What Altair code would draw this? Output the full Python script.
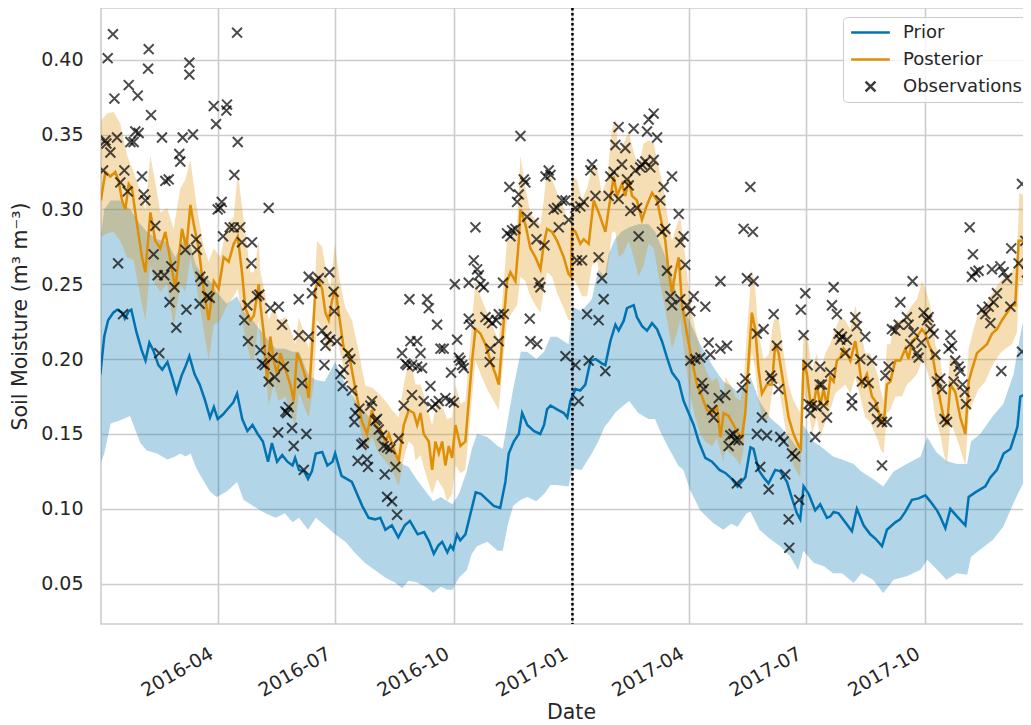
import altair as alt
import pandas as pd

# ---------------- data (day offset from 2016-01-01, soil moisture m3/m3) ----------------
PRIOR_MEAN = [
    (0, .19), (3, .215), (6, .226), (10, .231), (13, .233), (17, .231), (19, .227), (22, .232), (24, .233),
    (28, .218), (32, .206), (35, .199), (38, .211), (41, .206), (45, .196), (48, .193), (52, .198), (56, .187),
    (59, .178), (63, .189), (66, .195), (69, .202), (73, .190), (77, .183), (81, .173), (85, .161), (88, .168),
    (91, .160), (95, .163), (99, .167), (103, .171), (106, .177), (110, .160), (114, .152), (118, .156),
    (122, .150), (126, .145), (130, .1315), (133, .144), (137, .1315), (141, .136), (145, .1315), (149, .129),
    (151, .134), (154, .126), (158, .125), (161, .120), (164, .125), (167, .137), (172, .138), (176, .129),
    (180, .1315), (182, .137), (187, .122), (195, .118), (203, .102), (208, .094), (213, .093), (217, .094),
    (221, .086), (226, .089), (231, .081), (236, .089), (240, .092), (246, .083), (251, .0845), (255, .078),
    (258.5, .070), (262, .0755), (265, .078), (269, .071), (271.5, .0755), (273.5, .073), (276.5, .083),
    (279, .079), (283, .083), (287, .097), (291, .111), (295, .110), (300, .106), (305, .102), (310, .1006),
    (314, .118), (316.6, .137), (320.5, .145), (324.4, .150), (327, .164), (331, .156), (336, .152), (341, .150),
    (344, .156), (346.3, .1664), (349, .169), (354, .1664), (359.3, .164), (362, .161), (364.4, .172),
    (368.3, .180), (372, .179), (376, .183), (380, .199), (384, .200), (389, .197), (391.5, .196), (395.4, .212),
    (399.3, .223), (401.8, .219), (405.7, .2255), (408.3, .234), (410.9, .235), (413.5, .236), (416, .228),
    (420, .222), (423.8, .219), (427.7, .224), (431.6, .220), (435.4, .212), (439.3, .201), (443.2, .191),
    (448.4, .185), (452.2, .172), (456.1, .164), (460, .156), (463.9, .145), (469, .134), (474.2, .1315),
    (480, .126), (484.5, .124), (489.6, .120), (494, .115), (500, .121), (504, .141), (506.4, .140), (510.3, .126),
    (514.2, .121), (518, .117), (523.2, .126), (527.1, .125), (532.3, .118), (536.2, .107), (540, .097),
    (542.6, .093), (545.2, .115), (549.1, .110), (554.2, .099), (558.1, .103), (563.3, .094), (566, .095),
    (568.5, .098), (572.3, .097), (577.5, .091), (582.7, .085), (586.5, .100), (591.7, .089), (596.9, .083),
    (601, .080), (606, .075), (609.8, .086), (616.3, .091), (620, .093), (624, .098), (629.2, .106),
    (634.4, .107), (639.6, .109), (643.4, .105), (648.6, .099), (651, .095), (655.1, .087), (659, .100),
    (664.1, .095), (670.6, .089), (673.2, .108), (678.3, .111), (686.1, .115), (690, .121), (695.1, .126),
    (700.3, .137), (705.5, .140), (709.3, .150), (711, .155), (713.2, .175), (718.4, .177), (721.7, .178),
]

PRIOR_BAND = [  # (day, lower, upper)
    (0, .13, .28), (3, .137, .30), (8, .157, .306), (15, .159, .306), (23, .162, .30), (31, .144, .29),
    (36, .139, .285), (44, .137, .28), (52, .133, .278), (58, .135, .268), (62, .137, .275), (66, .135, .282),
    (70, .137, .275), (74, .128, .263), (78, .1216, .258), (85, .1116, .252), (90, .108, .245), (98, .1116, .237),
    (106, .118, .242), (111, .106, .232), (119, .1016, .225), (128, .097, .215), (136, .094, .207),
    (143, .097, .207), (149, .091, .205), (154, .094, .205), (161, .086, .19), (167, .094, .186),
    (174, .089, .185), (182, .083, .198), (190, .078, .183), (198, .070, .172), (205, .064, .165),
    (213, .059, .156), (221, .054, .145), (228, .051, .138), (234, .047, .13), (239, .052, .128),
    (245, .051, .12), (252, .048, .112), (258, .044, .105), (264, .048, .108), (269, .046, .105),
    (273, .046, .103), (278, .054, .11), (284, .059, .125), (288, .070, .14), (292, .075, .15), (300, .078, .148),
    (308, .072, .142), (312, .072, .14), (316, .09, .16), (320, .102, .18), (326, .106, .205), (331, .108, .205),
    (338, .105, .2), (344, .11, .205), (349, .116, .215), (354, .116, .215), (363, .115, .21), (366, .127, .235),
    (373, .126, .232), (381, .137, .24), (386, .145, .26), (391, .155, .255), (394, .158, .27), (399, .164, .28),
    (404, .168, .285), (410, .172, .288), (417, .164, .29), (425, .16, .29), (430, .16, .285), (435, .15, .275),
    (441, .14, .262), (448, .129, .24), (452, .126, .235), (457, .113, .225), (465, .099, .21), (475, .0905, .195),
    (483, .086, .185), (489, .09, .182), (494, .088, .178), (501, .097, .185), (504, .098, .188), (511, .086, .172),
    (519, .08, .161), (527, .075, .155), (535, .068, .147), (541, .059, .14), (545, .072, .156), (553, .064, .145),
    (561, .0616, .14), (568, .057, .135), (575, .057, .133), (584, .0505, .13), (590, .057, .125),
    (599, .0527, .12), (607, .0438, .115), (615, .0527, .125), (625, .055, .13), (636, .0593, .135),
    (641, .066, .148), (648, .06, .138), (656, .0527, .132), (664, .057, .13), (672, .056, .13), (675, .068, .145),
    (682, .0727, .15), (692, .0794, .162), (700, .088, .17), (708, .104, .19), (713, .113, .215), (716, .118, .228),
    (722, .126, .235),
]

POST_MEAN = [
    (0.5, .306), (1.3, .311), (3.9, .325), (7.8, .322), (11.6, .325), (14.2, .319), (16.8, .306), (19.4, .300),
    (22, .317), (24.5, .314), (28.4, .290), (32.3, .268), (34.9, .258), (38.8, .298), (42.6, .279), (46.5, .274),
    (50.4, .285), (54.3, .266), (58.1, .247), (63.3, .287), (66.7, .274), (69.8, .303), (72.4, .290), (76.2, .274),
    (80.1, .247), (84, .226), (87.9, .252), (91.7, .247), (95.6, .268), (99.5, .265), (103.4, .277), (106.5, .282),
    (109.8, .258), (112.4, .234), (116.3, .226), (119, .229), (122.8, .25), (124.1, .236), (126.7, .217),
    (129.2, .185), (131.8, .215), (134.4, .199), (137, .19), (139.6, .204), (143.5, .193), (147.3, .183),
    (149.9, .172), (152.5, .204), (155.1, .199), (159, .188), (161.5, .174), (164.1, .207), (166.7, .247),
    (169.3, .252), (171.9, .247), (174.5, .231), (177, .226), (179.6, .239), (182.2, .247), (184.8, .231),
    (188.7, .207), (192.6, .204), (197.7, .18), (202.9, .158), (206.8, .150), (210.6, .166), (213.2, .156),
    (217.1, .153), (221, .145), (223.6, .150), (227.4, .140), (231.3, .132), (235.2, .156), (239.1, .166),
    (243, .164), (245.6, .156), (248.2, .164), (250.7, .150), (254.6, .145), (257.2, .126), (259.8, .145),
    (262.4, .137), (265, .145), (267.5, .129), (270.1, .142), (272.7, .134), (275.3, .156), (279.2, .142),
    (283, .145), (285.6, .172), (288.2, .199), (290.8, .22), (294.7, .217), (298.5, .21), (302.4, .199),
    (306.3, .19), (308.9, .183), (312.8, .226), (315.3, .252), (317.9, .258), (321.8, .252), (324.4, .279),
    (325.7, .3), (329.5, .29), (333.4, .274), (337.3, .268), (341.2, .26), (343.8, .277), (346.3, .287),
    (350.2, .285), (354.1, .279), (359.3, .268), (362.9, .257), (364.9, .255), (365.7, .287), (368.3, .285),
    (372.1, .277), (374.7, .28), (378.6, .277), (382.5, .306), (386.3, .298), (391.5, .285), (394.1, .3),
    (398, .322), (400.6, .309), (404.4, .317), (407, .309), (409.6, .32), (412.2, .309), (416, .306),
    (419.9, .293), (423.8, .303), (427.7, .311), (431.6, .306), (435.4, .29), (438, .279), (440.6, .258),
    (443.2, .244), (445.8, .258), (448.4, .268), (451, .236), (454.8, .217), (458.7, .199), (462.6, .183),
    (466.4, .175), (470.3, .166), (474.2, .164), (478.1, .168), (480.7, .148), (483.2, .164), (487.1, .162),
    (490.9, .156), (494.8, .150), (497.4, .148), (500, .164), (502.6, .199), (505.1, .231), (507.7, .22),
    (510.3, .193), (512.9, .177), (516.8, .183), (520.7, .183), (523.2, .21), (525.8, .204), (529.7, .183),
    (533.6, .161), (537.4, .15), (541.3, .142), (543.1, .14), (545.2, .199), (547.8, .19), (550.4, .172),
    (553, .169), (555.5, .183), (558.1, .169), (560.7, .18), (563.3, .169), (565.9, .188), (568.5, .185),
    (571, .199), (573.6, .201), (576.2, .207), (578.8, .204), (581.4, .199), (585.3, .212), (587.8, .199),
    (590.4, .183), (594.3, .19), (598.2, .175), (600.8, .172), (604.7, .161), (607.3, .156), (609.8, .183),
    (612.4, .185), (616.3, .199), (620.2, .199), (624.1, .207), (626.6, .2), (629.2, .212), (633.1, .215),
    (637, .22), (639.6, .217), (642.1, .21), (644.7, .205), (648.6, .185), (651.2, .172), (653.8, .161),
    (656.4, .156), (659, .183), (662.8, .178), (666.7, .161), (670.6, .15), (673.2, .185), (675.7, .193),
    (679.6, .204), (683.5, .207), (687.4, .21), (691.2, .217), (695.1, .22), (699, .226), (702.9, .231),
    (706.7, .236), (709.3, .236), (711.9, .279), (715.8, .279), (718.4, .274), (721.7, .279),
]

POST_BAND = [  # (day, lower, upper)
    (0.5, .282, .358), (1.3, .282, .36), (5.2, .284, .364), (10.3, .285, .365), (15.5, .279, .357),
    (20.7, .268, .336), (25.8, .266, .325), (31, .242, .312), (34.9, .226, .30), (38.8, .263, .336),
    (42.6, .25, .318), (46.5, .245, .298), (51.7, .25, .301), (56.8, .222, .287), (62, .25, .314),
    (65.9, .245, .32), (69.8, .268, .333), (74.9, .247, .301), (80.1, .22, .275), (84, .199, .265),
    (87.9, .223, .274), (93, .226, .268), (98.2, .236, .29), (103.4, .242, .295), (106.5, .247, .325),
    (111.1, .22, .293), (116.3, .2, .258), (119, .199, .258), (122.8, .226, .279), (124.1, .21, .258),
    (128, .193, .242), (130.5, .169, .226), (134.4, .183, .235), (138.3, .172, .226), (143.5, .175, .228),
    (148.6, .161, .217), (151.2, .156, .21), (153.8, .178, .228), (159, .166, .215), (161.5, .161, .207),
    (165.4, .183, .236), (168, .226, .279), (171.9, .22, .275), (175.8, .207, .255), (178.3, .204, .247),
    (181.7, .22, .277), (186.1, .204, .25), (190, .188, .234), (195.1, .177, .226), (200.3, .158, .205),
    (205.5, .137, .182), (210.6, .148, .181), (215.8, .137, .177), (221, .132, .172), (226.1, .126, .166),
    (231.3, .115, .161), (235.2, .134, .183), (239.1, .145, .199), (242.7, .142, .19), (244.3, .132, .183),
    (248.2, .136, .183), (252, .124, .172), (257.2, .110, .156), (261.1, .12, .172), (266.2, .113, .166),
    (268.8, .105, .16), (272.7, .110, .161), (275.3, .129, .183), (279.2, .124, .17), (283, .126, .172),
    (285.6, .150, .199), (288.2, .175, .226), (290.8, .199, .252), (294.7, .19, .242), (299.8, .18, .231),
    (305, .172, .22), (308.9, .166, .212), (312.8, .204, .252), (315.3, .226, .279), (319.2, .231, .28),
    (323.1, .236, .29), (325.7, .255, .336), (329.5, .252, .314), (333.4, .242, .298), (337.3, .236, .293),
    (341.2, .231, .29), (343.8, .247, .306), (346.3, .258, .328), (350.2, .255, .32), (354.1, .244, .311),
    (359.3, .234, .301), (362.9, .226, .29), (364.9, .226, .30), (365.7, .255, .322), (369.5, .25, .32),
    (373.4, .242, .306), (377.3, .242, .314), (381.2, .263, .328), (385, .265, .328), (388.9, .252, .311),
    (392.8, .257, .32), (396.7, .285, .354), (399.3, .285, .36), (401.8, .268, .338), (405.7, .271, .344),
    (409.6, .279, .352), (413.5, .268, .338), (417.3, .255, .328), (421.2, .263, .344), (425.1, .277, .346),
    (429, .274, .344), (432.9, .255, .328), (436.7, .239, .314), (440.6, .22, .29), (443.2, .207, .279),
    (447.1, .218, .29), (449.6, .226, .295), (453.5, .199, .268), (457.4, .175, .236), (461.3, .161, .22),
    (465.2, .150, .207), (469, .145, .193), (474.2, .142, .185), (478.1, .147, .188), (483, .132, .172),
    (484.5, .14, .188), (488.4, .137, .183), (492.2, .134, .175), (496.1, .129, .172), (498.7, .14, .183),
    (501.3, .177, .22), (505.1, .204, .26), (507.7, .193, .247), (510.3, .172, .217), (514.2, .158, .2),
    (518.1, .161, .203), (522, .185, .226), (525.8, .183, .228), (529.7, .161, .204), (533.6, .142, .183),
    (537.4, .129, .172), (542.6, .121, .164), (545.2, .177, .217), (549.1, .169, .21), (551.7, .15, .193),
    (555.5, .161, .204), (558.1, .148, .19), (562, .158, .204), (565.9, .166, .21), (569.7, .177, .22),
    (573.6, .18, .228), (577.5, .183, .226), (581.4, .177, .22), (585.3, .188, .236), (589.1, .175, .22),
    (593, .161, .204), (596.9, .158, .204), (603.1, .145, .188), (604.7, .14, .18), (607.3, .137, .172),
    (609.8, .164, .21), (612.4, .166, .21), (616.3, .175, .226), (621.5, .175, .226), (625.3, .183, .231),
    (629.2, .186, .236), (633.1, .19, .24), (637, .199, .252), (639.6, .196, .247), (643.4, .185, .236),
    (647.3, .161, .21), (651.2, .15, .199), (653.8, .137, .183), (656.4, .129, .178), (659, .158, .204),
    (662.8, .15, .199), (666.7, .14, .183), (670.6, .129, .172), (673.2, .164, .207), (677, .172, .22),
    (680.9, .18, .231), (686.1, .185, .236), (690, .193, .242), (693.8, .199, .247), (697.7, .204, .252),
    (701.6, .207, .255), (706.7, .21, .258), (710.6, .218, .265), (712.4, .252, .311), (717.1, .25, .309),
    (721.7, .247, .306),
]

OBS = [
    (9.8, .417), (5.7, .401), (37.5, .407), (37, .394), (22, .383), (29, .376), (10.9, .374), (39.3, .363),
    (69, .398), (69, .390), (106, .418), (87.9, .369), (98.2, .370), (97.7, .366), (89.7, .357), (3.9, .346),
    (4.7, .344), (7.8, .338), (12.9, .348), (27.1, .352), (29.7, .351), (23.3, .345), (25.8, .345), (47.8, .348),
    (63.8, .348), (71.8, .350), (106.5, .345), (61.2, .337), (62, .332), (2.1, .326), (18.6, .326), (15.5, .318),
    (21.2, .312), (32.3, .322), (33.6, .310), (34.9, .306), (50.4, .319), (53, .320), (103.9, .323), (42.6, .289),
    (13.7, .264), (17.6, .230), (41.3, .270), (44.4, .256), (49.6, .256), (55, .262), (57.4, .248), (53.7, .238),
    (58.9, .221), (66.7, .233), (65.9, .273), (74.2, .280), (74.9, .273), (77.5, .255), (79.6, .252), (82.7, .242),
    (84.8, .241), (77, .237), (91, .300), (93, .301), (94.1, .305), (95.1, .282), (100.3, .288), (103.4, .288),
    (108.5, .288), (109.8, .278), (117.6, .278), (117.1, .264), (121.4, .242), (114, .236), (111.6, .226),
    (114.5, .212), (45.7, .204),
    (130.5, .301), (123.3, .243), (131.8, .234), (138.3, .235), (140.9, .223), (153.8, .240), (161.5, .255),
    (164.1, .244), (166.7, .252), (169.3, .254), (177.6, .258), (180.9, .245), (181.4, .232), (171.9, .219),
    (174.5, .209), (175.2, .215), (178.3, .213), (183.5, .212), (173.7, .196), (153.8, .216), (161.5, .215),
    (124.1, .206), (125.4, .197), (127.4, .196), (133.6, .201), (130.5, .185), (135.2, .188), (142.2, .195),
    (156.4, .184), (186.1, .190), (188.7, .193), (187.9, .182), (192, .204), (193.8, .200), (195.1, .179),
    (197.7, .164), (196.9, .158), (200.8, .167), (202.4, .143), (204.2, .144), (209.3, .169), (210.6, .172),
    (213.2, .159), (214.5, .160), (215.8, .153), (218.4, .149), (219.7, .142), (222.3, .141), (224.9, .140),
    (231.3, .147), (228.7, .128), (220.5, .123), (207.5, .128), (206.8, .133), (199.5, .132), (222.3, .108),
    (226.1, .105), (230, .096), (233.9, .204), (236.5, .197), (237.8, .196), (239.6, .240), (240.4, .212),
    (235.2, .169), (241.6, .176), (137.8, .151), (148.6, .154), (149.9, .142), (159.7, .150), (157.7, .126),
    (143.5, .165), (146, .168), (144.7, .164),
    (245.6, .212), (248.2, .204), (241.7, .196), (245.6, .195), (249.4, .194), (250.7, .172), (253.3, .240),
    (254.6, .234), (261.1, .223), (255.9, .182), (257.2, .168), (259.8, .170), (262.4, .172), (263.7, .207),
    (266.2, .207), (267.5, .174), (271.4, .172), (274, .171), (271.9, .191), (274.8, .250), (276.6, .213),
    (277.9, .201), (279.2, .199), (280.5, .196), (281.7, .194), (285.6, .251), (290.8, .288), (289.5, .266),
    (292.1, .260), (293.4, .256), (294.7, .250), (297.2, .248), (285.6, .227), (286.9, .223), (298.5, .228),
    (301.1, .226), (303.7, .224), (307, .226), (308.9, .230), (312.8, .230), (302.4, .207), (308.9, .212),
    (301.9, .198), (312.2, .251), (317.1, .315), (315.3, .284), (317.9, .282), (319.2, .286), (321.8, .287),
    (323.1, .305), (324.4, .310), (325.7, .349), (328.3, .320), (329.5, .318), (330.8, .295), (336, .291),
    (338.1, .280), (344.3, .276), (339.9, .251), (341.2, .248), (345.1, .322), (347.6, .326), (349, .323),
    (351.5, .300), (354.1, .301), (355.4, .288), (358, .306), (360.6, .306), (363.1, .293), (332.9, .227),
    (333.4, .212), (338.6, .210), (360.6, .202),
    (368.3, .301), (372.1, .302), (374.7, .305), (369.5, .266), (373.4, .266), (379.9, .326), (381.2, .330),
    (383.8, .309), (386.3, .268), (388.9, .254), (390.2, .240), (377.3, .230), (386.3, .226), (368.3, .196),
    (370.8, .172), (378.6, .199), (391.5, .192), (394.1, .309), (395.4, .322), (398, .325), (399.3, .343),
    (401.8, .355), (401.8, .307), (404.4, .330), (407, .341), (408.3, .320), (409.6, .316), (410.9, .299),
    (413.5, .354), (414.8, .326), (416.1, .301), (417.3, .282), (418.6, .328), (419.9, .330), (422.5, .332),
    (423.8, .352), (425.1, .360), (426.4, .328), (429, .364), (429, .333), (431.6, .348), (434.1, .306),
    (435.4, .285), (436.7, .315), (438, .287), (439.3, .259), (443.2, .322), (448.4, .297), (449.6, .278),
    (452.2, .282), (453.5, .263), (441.9, .242), (443.2, .236), (449.6, .240), (454.8, .236), (457.4, .232),
    (460, .242), (469, .235), (457.4, .199), (461.3, .200), (465.2, .201), (466.4, .184), (467.7, .180),
    (471.6, .211), (472.9, .203), (480.7, .207), (474.2, .166), (475.5, .161), (479.4, .174), (480.7, .252),
    (485.8, .209), (484.5, .176), (490.9, .150), (488.4, .149), (487.1, .142), (492.2, .146), (494.8, .146),
    (493.5, .117), (497.4, .181), (500, .187), (498.7, .287), (503.9, .315), (505.9, .285), (501.3, .254),
    (506.4, .252), (509, .217), (514.2, .220), (522, .230), (524.5, .209), (519.4, .189), (520.7, .187),
    (525.8, .180), (512.9, .161), (509, .150), (516.8, .149), (527.1, .148), (529.7, .145), (511.6, .128),
    (518.1, .113), (531, .123), (536.2, .137), (538.7, .135), (533.6, .093), (534.1, .074), (541.8, .106),
    (543.1, .233), (546.5, .244), (545.2, .216), (548.3, .196), (549.1, .170), (551.7, .169), (550.4, .164),
    (555.5, .168), (557.6, .183), (558.1, .195), (559.4, .183), (554.2, .148), (560.7, .169), (563.3, .161),
    (565.9, .191), (568.5, .248), (567.2, .236), (571, .230), (572.3, .217), (573.6, .213), (574.9, .215),
    (577.5, .204), (578.8, .213), (582.7, .174), (582.7, .169), (585.3, .228), (586.5, .222), (589.1, .200),
    (590.4, .185), (593, .215), (595.6, .184), (598.2, .199), (599.5, .168), (602.1, .160),
    (606, .129), (606, .158), (609.8, .158), (611.1, .195), (608.6, .189), (613.7, .220), (616.3, .219),
    (618.9, .223), (620.2, .238), (625.3, .228), (626.6, .223), (629.7, .252), (627.9, .210), (630.5, .218),
    (633.1, .204), (634.4, .201), (636.5, .211), (638.3, .231), (640.9, .226), (642.1, .228), (643.4, .220),
    (646, .217), (647.3, .203), (648.6, .185), (651.2, .187), (652.5, .180), (654.5, .160), (656.4, .158),
    (657.6, .207), (659, .216), (660.2, .209), (661.5, .185), (662.8, .199), (665.4, .195), (666.7, .192),
    (668.5, .183), (670.1, .178), (671.1, .170), (674, .288), (676.5, .270), (675.7, .255), (678.3, .258),
    (680.9, .259), (683.5, .233), (686.1, .230), (688.7, .235), (690, .224), (692.5, .238), (691.2, .260),
    (695.1, .244), (697.7, .262), (700.3, .258), (702.9, .254), (705.5, .235), (706.2, .274), (698.5, .192),
    (711.9, .264), (714.5, .317), (717.1, .279), (718.4, .258), (720.2, .247), (721.7, .236), (714.5, .205),
    (722.2, .295),
]

ASSIM_DATE = "2017-01-01T00:00:00"
Y_TICKS = [0.05, 0.10, 0.15, 0.20, 0.25, 0.30, 0.35, 0.40]
X_TICKS = [(2016, 4), (2016, 7), (2016, 10), (2017, 1), (2017, 4), (2017, 7), (2017, 10)]
SERIES = ["Prior", "Posterior", "Observations"]
COLORS = ["#0173b2", "#de8f05", "#000000"]

# ---------------- frames ----------------
T0 = pd.Timestamp("2016-01-01")


def dates(days):
    return [T0 + pd.Timedelta(days=float(d)) for d in days]


prior_line = pd.DataFrame({"date": dates([d for d, _ in PRIOR_MEAN]), "value": [v for _, v in PRIOR_MEAN]})
post_line = pd.DataFrame({"date": dates([d for d, _ in POST_MEAN]), "value": [v for _, v in POST_MEAN]})
prior_band = pd.DataFrame({"date": dates([r[0] for r in PRIOR_BAND]),
                           "lo": [r[1] for r in PRIOR_BAND], "hi": [r[2] for r in PRIOR_BAND]})
post_band = pd.DataFrame({"date": dates([r[0] for r in POST_BAND]),
                          "lo": [r[1] for r in POST_BAND], "hi": [r[2] for r in POST_BAND]})
obs = pd.DataFrame({"date": dates([d for d, _ in OBS]), "value": [v for _, v in OBS]})
# legend rows (one per series, no position: only used to build the legend entries)
legend_rows = pd.DataFrame({"series": SERIES})
vline = pd.DataFrame({"date": [pd.Timestamp(ASSIM_DATE)]})

# ---------------- encodings ----------------
FONT = "DejaVu Sans"
TXT = "#262626"

x_scale = alt.Scale(domain=[alt.DateTime(year=2016, month=1, date=1, hours=12),
                            alt.DateTime(year=2017, month=12, date=22, hours=12)])
x_axis = alt.Axis(values=[alt.DateTime(year=y, month=m, date=1) for y, m in X_TICKS],
                  format="%Y-%m", labelAngle=-30, labelAlign="right", labelBaseline="top",
                  labelPadding=20, labelOffset=-11, title="Date", titleX=470, titleY=94,
                  titleAlign="center", titleBaseline="alphabetic")
y_scale = alt.Scale(domain=[0.0231, 0.4345], nice=False, zero=False)
y_axis = alt.Axis(values=Y_TICKS, format=".2f", labelPadding=18,
                  title="Soil Moisture (m³ m⁻³)", titlePadding=10)

X = alt.X("date:T", scale=x_scale, axis=x_axis)

XPATH = "M-0.55,-0.55L0.55,0.55M0.55,-0.55L-0.55,0.55"
LINEPATH = "M-2.15,0L2.15,0"
color_scale = alt.Scale(domain=SERIES, range=["#0173b2", "#de8f05", "#3c3c3c"])
shape_scale = alt.Scale(domain=SERIES, range=[LINEPATH, LINEPATH, XPATH])
legend = alt.Legend(title=None, orient="none", legendX=742, legendY=9,
                    fillColor="rgba(255,255,255,0.8)", strokeColor="#cccccc", cornerRadius=4,
                    padding=5, symbolSize=324, symbolStrokeWidth=2.5, symbolOffset=12,
                    labelOffset=22, labelFontSize=18, labelFont=FONT, labelColor=TXT,
                    labelExpr="datum.label + '      '",
                    rowPadding=7, symbolOpacity=1)

prior_band_l = alt.Chart(prior_band).mark_area(color=COLORS[0], opacity=0.3, clip=True).encode(
    x=X, y=alt.Y("lo:Q", scale=y_scale, axis=y_axis), y2="hi:Q")
prior_line_l = alt.Chart(prior_line).mark_line(color=COLORS[0], strokeWidth=2.5, clip=True).encode(
    x=X, y=alt.Y("value:Q", scale=y_scale, axis=y_axis))
post_band_l = alt.Chart(post_band).mark_area(color=COLORS[1], opacity=0.3, clip=True).encode(
    x=X, y=alt.Y("lo:Q", scale=y_scale, axis=y_axis), y2="hi:Q")
post_line_l = alt.Chart(post_line).mark_line(color=COLORS[1], strokeWidth=2.5, clip=True).encode(
    x=X, y=alt.Y("value:Q", scale=y_scale, axis=y_axis))
obs_l = alt.Chart(obs).mark_point(shape=XPATH, filled=False, size=324, strokeWidth=2, opacity=0.7,
                                  color="#000000", clip=True).encode(
    x=X, y=alt.Y("value:Q", scale=y_scale, axis=y_axis))
# legend-only layer: invisible points carrying the colour + shape legend
legend_l = alt.Chart(legend_rows).mark_point(filled=False, opacity=0).encode(
    color=alt.Color("series:N", scale=color_scale, legend=legend),
    shape=alt.Shape("series:N", scale=shape_scale, legend=legend))
vline_l = alt.Chart(vline).mark_rule(color="black", strokeWidth=2.5, strokeDash=[2.5, 2.5]).encode(x=X)

# the plot runs on past the right edge of the picture (as in the original figure)
chart = alt.layer(prior_band_l, prior_line_l, post_band_l, post_line_l, obs_l, vline_l, legend_l).properties(
    width=930, height=616,
    autosize=alt.AutoSizeParams(type="none"),
    padding={"left": 93, "top": 0, "right": -8, "bottom": 100},
    background="white",
).configure_view(
    stroke="#cccccc", strokeWidth=1.6
).configure_axis(
    grid=True, gridColor="#cccccc", gridWidth=1.6, domain=False, ticks=False, tickSize=0,
    labelFont=FONT, titleFont=FONT, labelColor=TXT, titleColor=TXT,
    labelFontSize=19, titleFontSize=20.5, titleFontWeight="normal",
)

chart.save("out.html", embed_options={"renderer": "svg", "actions": False})
